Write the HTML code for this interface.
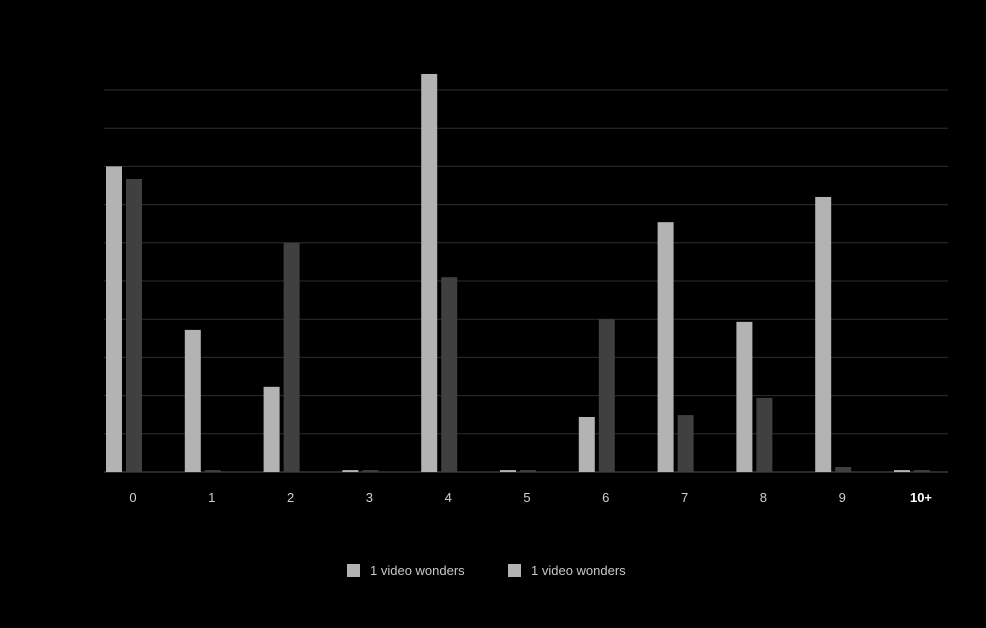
<!DOCTYPE html>
<html><head><meta charset="utf-8"><style>
html,body{margin:0;padding:0;background:#000;}
svg{display:block;font-family:"Liberation Sans",sans-serif;}
</style></head><body>
<svg id="chart" width="986" height="628" viewBox="0 0 986 628">
<g id="grid"></g>
<g id="bars"></g>
<g id="xlabels"></g>
<g>
 <g>
  <rect x="347" y="564" width="13" height="13" fill="#b3b3b3"></rect>
  <text x="370" y="575" fill="#c8c8c8" font-size="13">1 video wonders</text>
 </g>
 <g>
  <rect x="508" y="564" width="13" height="13" fill="#b3b3b3"></rect>
  <text x="531" y="575" fill="#c8c8c8" font-size="13">1 video wonders</text>
 </g>
</g>
</svg>
<script>
const categories = ["0","1","2","3","4","5","6","7","8","9","10+"];
const seriesA = [8.0, 3.72, 2.23, 0.05, 10.42, 0.05, 1.44, 6.54, 3.93, 7.2, 0.05];
const seriesB = [7.67, 0.05, 6.0, 0.05, 5.1, 0.05, 4.0, 1.49, 1.94, 0.13, 0.05];
const gridTicks = [0,1,2,3,4,5,6,7,8,9,10];

const NS = "http://www.w3.org/2000/svg";
const plotLeft = 104, plotRight = 948, baseY = 472, unit = 38.2;
const band = 78.8;
function y(v){ return baseY - v * unit; }
function x(i){ return plotLeft + i * band; }

const grid = document.getElementById('grid');
gridTicks.forEach(t => {
  const l = document.createElementNS(NS, 'line');
  
  
  l.setAttribute('x1', plotLeft); l.setAttribute('x2', plotRight);
  l.setAttribute('y1', y(t)); l.setAttribute('y2', y(t));
  l.setAttribute('stroke', t === 0 ? '#555' : '#2e2e2e');
  l.setAttribute('stroke-width', '1');
  grid.appendChild(l);
});

const bars = document.getElementById('bars');
const xl = document.getElementById('xlabels');
categories.forEach((c, i) => {
  const a = document.createElementNS(NS, 'rect');
  
  
  a.setAttribute('x', x(i) + 2); a.setAttribute('width', 16);
  a.setAttribute('y', y(seriesA[i])); a.setAttribute('height', baseY - y(seriesA[i]));
  a.setAttribute('fill', '#b3b3b3');
  bars.appendChild(a);
  const b = document.createElementNS(NS, 'rect');
  
  
  b.setAttribute('x', x(i) + 22); b.setAttribute('width', 16);
  b.setAttribute('y', y(seriesB[i])); b.setAttribute('height', baseY - y(seriesB[i]));
  b.setAttribute('fill', '#404040');
  bars.appendChild(b);
  const t = document.createElementNS(NS, 'text');
  
  
  t.setAttribute('x', x(i) + 29); t.setAttribute('y', 502);
  t.setAttribute('text-anchor', 'middle');
  t.setAttribute('font-size', '13');
  t.setAttribute('fill', c === '10+' ? '#ffffff' : '#d0d0d0');
  if (c === '10+') t.setAttribute('font-weight', 'bold');
  t.textContent = c;
  xl.appendChild(t);
});
</script>
</body></html>
